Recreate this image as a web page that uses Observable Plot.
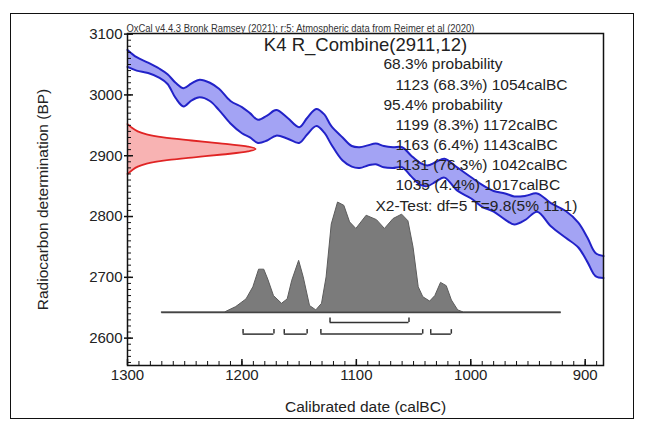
<!DOCTYPE html>
<html><head><meta charset="utf-8">
<script src="https://cdn.jsdelivr.net/npm/d3@7"></script>
<script src="https://cdn.jsdelivr.net/npm/@observablehq/plot@0.6"></script>
<style>
body{margin:0;background:#fff;}
#wrap{position:relative;width:647px;height:425px;font-family:"Liberation Sans",Arial,sans-serif;}
#border{position:absolute;left:10px;top:13px;width:624px;height:406px;border:1.5px solid #111;box-sizing:border-box;pointer-events:none;}
#wrap svg{position:absolute;left:0;top:0;}
</style></head><body><div id="wrap"><div id="border"></div></div>
<script>
// Calibration curve (IntCal20) 1-sigma band
const curveYears = [1300,1292,1282,1272,1265,1258,1251,1244,1237,1228,1220,1210,1200,1193,1186,1178,1170,1160,1150,1143,1135,1128,1122,1112,1104,1097,1090,1083,1076,1068,1060,1052,1044,1038,1030,1023,1012,1000,990,980,970,962,952,942,930,917,906,898,891,884];
const curveUpper = [3074,3062,3053,3043,3034,3020,3011,3019,3025,3020,3010,2990,2980,2970,2959,2966,2975,2962,2947,2962,2977,2968,2949,2930,2916,2914,2917,2920,2916,2914,2914,2900,2888,2884,2890,2895,2881,2865,2852,2842,2838,2833,2834,2838,2822,2809,2790,2765,2740,2735];
const curveLower = [3046,3040,3036,3028,3018,2995,2981,2991,2996,2990,2975,2953,2937,2930,2921,2925,2933,2928,2921,2935,2949,2938,2919,2892,2882,2880,2884,2886,2881,2880,2881,2866,2852,2850,2858,2864,2843,2830,2816,2808,2795,2787,2795,2808,2784,2765,2749,2725,2702,2699];

// Measurement R_Combine(2911,12): relative density by BP
const measBP = [2952,2945,2940,2935,2930,2925,2920,2915,2911,2907,2902,2897,2892,2887,2882,2877,2870];
const measDensity = [0,0.04,0.08,0.15,0.28,0.50,0.74,0.94,1.0,0.94,0.74,0.50,0.28,0.15,0.08,0.04,0];

// Calibrated probability distribution (relative)
const postYears = [1270,1215,1205,1196,1190,1185,1180.5,1177,1172,1165,1160,1156,1150,1146,1140.5,1135,1130,1126,1121.5,1116,1110.5,1105.5,1100,1091,1082,1075,1067.5,1060,1054.5,1050,1045.5,1041.5,1035.5,1031,1026,1021,1016.5,1011,1006,921];
const postDensity = [0,0,0.05,0.12,0.23,0.39,0.39,0.30,0.15,0.08,0.12,0.29,0.47,0.32,0.06,0.02,0.08,0.32,0.80,1.00,0.97,0.82,0.76,0.88,0.84,0.76,0.85,0.89,0.83,0.59,0.23,0.14,0.10,0.15,0.27,0.24,0.11,0.02,0,0];
const postExtent = [1270, 921];

// Ranges
const range68 = [[1123,1054]];
const range95 = [[1199,1172],[1163,1143],[1131,1042],[1035,1017]];

// Ticks & text
const xTicks = [1300,1200,1100,1000,900];
const yTicks = [2600,2700,2800,2900,3000,3100];
const xLabel = "Calibrated date (calBC)";
const yLabel = "Radiocarbon determination (BP)";
const titleText = "K4 R_Combine(2911,12)";
const headerText = "OxCal v4.4.3 Bronk Ramsey (2021); r:5: Atmospheric data from Reimer et al (2020)";
const resultLines = ["68.3% probability","1123 (68.3%) 1054calBC","95.4% probability","1199 (8.3%) 1172calBC","1163 (6.4%) 1143calBC","1131 (76.3%) 1042calBC","1035 (4.4%) 1017calBC","X2-Test: df=5 T=9.8(5% 11.1)"];
const resultIndent = [256,268,256,268,268,268,268,248];

// ---- build ----
const curve = curveYears.map((y,i)=>({year:y, upper:curveUpper[i], lower:curveLower[i]}));
const meas = measBP.map((b,i)=>({bp:b, p:measDensity[i]}));
const post = postYears.map((y,i)=>({year:y, p:postDensity[i]}));

const W=647,H=425,mL=127,mR=44,mT=33,mB=60;
const innerW=W-mL-mR, innerH=H-mT-mB;
const xLeft=1300, measAmp=112;      // measurement curve amplitude in years
const postBase=2642, postAmp=181;   // posterior baseline & amplitude in BP units
const br68Y=2625.7, br95Y=2606.6, brTick=7.4;
const txt="#222";

const marks = [
  Plot.areaY(curve,{x:"year",y1:"lower",y2:"upper",fill:"#a3a3f4",curve:"catmull-rom"}),
  Plot.line(curve,{x:"year",y:"upper",stroke:"#2222c8",strokeWidth:2,curve:"catmull-rom"}),
  Plot.line(curve,{x:"year",y:"lower",stroke:"#2222c8",strokeWidth:2,curve:"catmull-rom"}),
  Plot.areaX(meas,{y:"bp",x1:()=>xLeft,x2:d=>xLeft-d.p*measAmp,fill:"#f8b3b3",curve:"catmull-rom"}),
  Plot.line(meas,{y:"bp",x:d=>xLeft-d.p*measAmp,stroke:"#e02424",strokeWidth:1.8,curve:"catmull-rom"}),
  Plot.areaY(post,{x:"year",y1:()=>postBase,y2:d=>postBase+d.p*postAmp,fill:"#7b7b7b",stroke:"#5c5c5c",strokeWidth:1}),
  Plot.ruleY([postBase],{x1:()=>postExtent[0],x2:()=>postExtent[1],stroke:"#444",strokeWidth:1.5}),
  Plot.ruleY(range68,{x1:d=>d[0],x2:d=>d[1],y:()=>br68Y,stroke:"#333",strokeWidth:1.5}),
  Plot.ruleX(range68.flat(),{x:d=>d,y1:()=>br68Y,y2:()=>br68Y+brTick,stroke:"#333",strokeWidth:1.5}),
  Plot.ruleY(range95,{x1:d=>d[0],x2:d=>d[1],y:()=>br95Y,stroke:"#333",strokeWidth:1.5}),
  Plot.ruleX(range95.flat(),{x:d=>d,y1:()=>br95Y,y2:()=>br95Y+brTick,stroke:"#333",strokeWidth:1.5}),
  // axis ticks (inward)
  Plot.ruleX(d3.range(890,1301,10),{x:d=>d,insetTop:innerH-4,stroke:"#111",strokeWidth:1}),
  Plot.ruleX(xTicks,{x:d=>d,insetTop:innerH-6,stroke:"#111",strokeWidth:1.5}),
  Plot.ruleY(d3.range(2560,3101,10),{y:d=>d,insetRight:innerW-4,stroke:"#111",strokeWidth:1}),
  Plot.ruleY(yTicks,{y:d=>d,insetLeft:-3,insetRight:innerW-6,stroke:"#111",strokeWidth:1.5}),
  Plot.frame({stroke:"#111",strokeWidth:1.5}),
  Plot.axisX(xTicks,{tickSize:0,tickPadding:4,fontSize:15,tickFormat:"d",label:null,fill:txt}),
  Plot.axisY(yTicks,{tickSize:0,tickPadding:5,fontSize:15,tickFormat:"d",label:null,fill:txt}),
  Plot.text([xLabel],{text:d=>d,frameAnchor:"bottom",dy:42,lineAnchor:"middle",fontSize:15.5,fill:txt}),
  Plot.text([yLabel],{text:d=>d,frameAnchor:"left",textAnchor:"middle",dx:-84,rotate:-90,lineAnchor:"middle",fontSize:15.5,fill:txt}),
  Plot.text([titleText],{text:d=>d,frameAnchor:"top",dy:12,lineAnchor:"middle",fontSize:18.5,fill:txt}),
  Plot.text([headerText],{text:d=>d,frameAnchor:"top-left",dx:-1,dy:-2,lineAnchor:"bottom",textAnchor:"start",fontSize:10,fill:"#333"}),
  ...resultLines.map((t,i)=>Plot.text([t],{text:d=>d,frameAnchor:"top-left",dx:resultIndent[i],dy:31+i*20.15,lineAnchor:"middle",textAnchor:"start",fontSize:15.5,fill:txt}))
];

const chart = Plot.plot({
  width:W,height:H,marginLeft:mL,marginRight:mR,marginTop:mT,marginBottom:mB,
  style:{fontFamily:"'Liberation Sans', Arial, sans-serif",background:"transparent",color:txt},
  x:{domain:[1300,884],axis:null},
  y:{domain:[2555,3101],axis:null},
  marks
});
chart.querySelectorAll("text").forEach(t=>{
  if (t.textContent.startsWith("OxCal")) { t.setAttribute("textLength","348"); t.setAttribute("lengthAdjust","spacingAndGlyphs"); }
});
document.getElementById("wrap").appendChild(chart);
</script></body></html>
